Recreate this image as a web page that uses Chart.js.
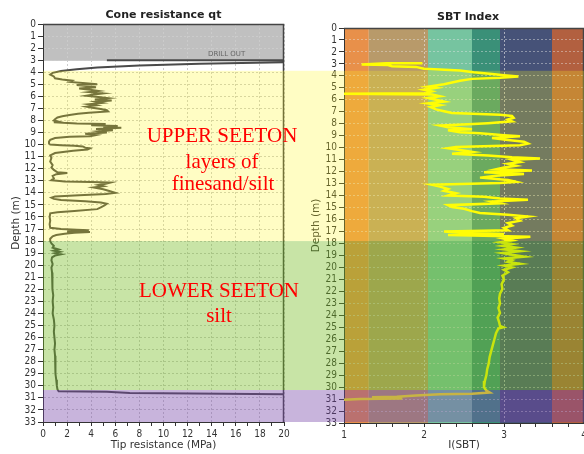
<!DOCTYPE html>
<html lang="en">
<head>
<meta charset="UTF-8"/>
<title>Cone resistance / SBT Index</title>
<script src="https://cdn.jsdelivr.net/npm/chart.js"></script>
<style>
    body { margin: 0; background: #fff; overflow: hidden; }
    #wrap { position: relative; width: 584px; height: 454px; overflow: hidden; }
    #qtChart { position: absolute; left: 0; top: 0; }
    #sbtChart { position: absolute; left: 300px; top: 0; }
    .note { position: absolute; width: 200px; color: #f00; font-family: "Liberation Serif", serif; font-size: 21px; line-height: 24px; text-align: center; white-space: nowrap; }
    .drill { position: absolute; left: 208px; top: 50px; font-family: "DejaVu Sans", sans-serif; font-size: 7px; line-height: 8px; color: #666; }
</style>
<script>
// cone resistance profile (depth m, qt MPa)
const qtDepth = [3.0, 3.0, 3.15, 3.3, 3.45, 3.6, 3.75, 3.9, 4.05, 4.2, 4.35, 4.5, 4.6, 4.7, 4.8, 4.9, 5.0, 5.05, 5.15, 5.25, 5.35, 5.45, 5.55, 5.65, 5.75, 5.85, 5.95, 6.05, 6.15, 6.25, 6.35, 6.45, 6.55, 6.65, 6.75, 6.85, 6.95, 7.05, 7.15, 7.25, 7.35, 7.45, 7.55, 7.65, 7.75, 7.9, 8.0, 8.1, 8.15, 8.25, 8.3, 8.4, 8.45, 8.55, 8.6, 8.7, 8.8, 8.9, 9.0, 9.1, 9.2, 9.3, 9.35, 9.45, 9.6, 9.75, 9.9, 10.0, 10.05, 10.1, 10.15, 10.25, 10.3, 10.4, 10.5, 10.7, 10.9, 11.1, 11.4, 11.7, 11.9, 12.1, 12.3, 12.35, 12.45, 12.6, 12.8, 12.95, 13.05, 13.1, 13.15, 13.25, 13.35, 13.45, 13.55, 13.7, 13.85, 14.0, 14.1, 14.2, 14.3, 14.4, 14.5, 14.6, 14.7, 14.8, 14.9, 15.05, 15.2, 15.35, 15.5, 15.6, 15.7, 16.0, 16.3, 16.6, 16.9, 17.0, 17.05, 17.1, 17.15, 17.2, 17.25, 17.3, 17.4, 17.5, 17.6, 17.8, 18.0, 18.2, 18.4, 18.55, 18.7, 18.8, 18.9, 19.0, 19.1, 19.2, 19.35, 19.6, 19.9, 20.2, 20.6, 21.0, 21.5, 22.0, 22.5, 23.0, 23.5, 24.0, 24.5, 25.0, 25.5, 26.0, 26.5, 27.0, 27.5, 28.0, 28.5, 29.0, 29.5, 30.0, 30.3, 30.45, 30.5, 30.6, 30.7];
const qtValue = [5.3, 21, 21, 13, 8, 4.5, 2.8, 1.5, 0.8, 0.6, 0.9, 1.0, 1.6, 2.4, 2.2, 3.3, 4.5, 2.8, 3.6, 4.4, 3.0, 3.9, 4.6, 3.8, 5.0, 4.2, 3.6, 4.6, 5.4, 4.3, 5.7, 4.4, 4.9, 3.8, 4.4, 3.6, 4.1, 4.8, 5.3, 5.4, 3.8, 2.9, 2.2, 1.6, 1.2, 1.0, 0.9, 1.3, 0.9, 2.8, 5.2, 4.0, 6.2, 5.0, 6.5, 4.4, 5.8, 4.6, 5.3, 3.5, 4.4, 3.9, 2.2, 1.0, 0.6, 0.5, 0.5, 0.6, 1.5, 2.6, 3.3, 3.5, 3.9, 3.7, 2.5, 1.0, 0.6, 0.7, 0.6, 0.8, 0.7, 0.9, 1.2, 2.0, 1.1, 0.8, 0.9, 0.7, 1.8, 4.0, 5.6, 5.2, 4.6, 5.0, 4.2, 5.0, 5.5, 6.0, 5.2, 3.0, 1.0, 0.7, 0.9, 1.5, 3.5, 4.8, 5.3, 5.1, 4.8, 4.5, 2.6, 1.2, 0.6, 0.55, 0.6, 0.55, 0.6, 1.5, 2.8, 3.8, 3.2, 2.0, 3.9, 2.6, 1.8, 1.1, 0.8, 0.6, 0.6, 0.7, 0.9, 0.8, 1.3, 0.9, 1.4, 1.0, 1.5, 1.0, 0.75, 0.7, 0.8, 0.7, 0.75, 0.8, 0.75, 0.8, 0.85, 0.8, 0.85, 0.8, 0.9, 0.95, 0.9, 0.95, 1.0, 0.95, 1.0, 1.05, 1.0, 1.05, 1.1, 1.15, 1.2, 1.3, 5.3, 7.2, 20.5];

// soil behaviour type index profile (depth m, Ic)
const sbtDepth = [2.95, 2.95, 3.05, 3.1, 3.2, 3.25, 3.4, 3.55, 3.7, 3.85, 3.95, 4.05, 4.15, 4.25, 4.4, 4.55, 4.7, 4.9, 5.0, 5.15, 5.3, 5.45, 5.5, 5.55, 5.7, 5.85, 6.0, 6.15, 6.3, 6.45, 6.6, 6.8, 6.95, 7.1, 7.25, 7.35, 7.5, 7.65, 7.8, 7.95, 8.05, 8.15, 8.3, 8.45, 8.55, 8.7, 8.8, 8.95, 9.05, 9.2, 9.35, 9.5, 9.65, 9.8, 9.95, 10.05, 10.2, 10.35, 10.5, 10.65, 10.8, 10.9, 11.0, 11.2, 11.35, 11.5, 11.65, 11.8, 11.9, 12.05, 12.2, 12.35, 12.5, 12.7, 12.85, 12.95, 13.1, 13.25, 13.45, 13.6, 13.8, 14.0, 14.1, 14.25, 14.35, 14.5, 14.65, 14.8, 14.95, 15.1, 15.3, 15.45, 15.6, 15.75, 15.9, 16.1, 16.3, 16.5, 16.7, 16.9, 17.0, 17.1, 17.2, 17.3, 17.45, 17.6, 17.75, 17.9, 18.05, 18.2, 18.35, 18.5, 18.65, 18.8, 18.95, 19.1, 19.25, 19.4, 19.55, 19.7, 19.85, 20.0, 20.2, 20.4, 20.7, 21.0, 21.4, 21.8, 22.2, 22.6, 23.0, 23.4, 23.8, 24.2, 24.6, 24.9, 25.0, 25.1, 25.5, 26.0, 26.5, 27.0, 27.5, 28.0, 28.5, 29.0, 29.5, 30.0, 30.3, 30.45, 30.55, 30.6, 30.7, 30.8, 30.85, 30.9, 30.95, 31.0, 31.05];
const sbtValue = [1.98, 1.53, 1.22, 1.55, 1.6, 1.9, 2.0, 2.45, 2.62, 2.85, 3.0, 3.18, 2.95, 2.6, 2.45, 2.35, 2.25, 2.05, 2.15, 2.0, 2.1, 2.02, 1.0, 2.1, 2.2, 2.05, 2.15, 2.25, 2.05, 2.2, 2.08, 2.15, 2.25, 2.35, 2.95, 3.1, 3.12, 3.05, 3.1, 2.8, 2.55, 2.2, 2.3, 2.6, 2.3, 2.45, 2.7, 3.0, 3.2, 2.85, 3.05, 3.25, 3.3, 3.2, 2.4, 2.3, 2.45, 2.6, 2.35, 2.8, 3.1, 3.45, 3.1, 3.2, 3.05, 3.15, 3.0, 2.9, 3.35, 2.75, 3.25, 2.9, 2.7, 3.05, 3.15, 2.95, 2.1, 2.2, 2.3, 2.25, 2.4, 2.3, 2.75, 2.95, 3.3, 2.85, 2.95, 2.3, 2.35, 2.5, 2.6, 2.7, 3.05, 3.3, 3.15, 3.2, 3.05, 3.1, 3.0, 3.05, 2.25, 2.5, 3.0, 2.3, 3.33, 3.0, 3.1, 2.95, 3.1, 2.98, 3.15, 3.0, 3.2, 2.98, 3.1, 3.25, 3.0, 3.1, 3.05, 3.2, 3.0, 3.1, 3.0, 3.05, 2.98, 3.0, 2.97, 2.98, 2.95, 2.94, 2.95, 2.93, 2.95, 2.92, 2.94, 2.95, 2.99, 2.93, 2.9, 2.88, 2.86, 2.84, 2.82, 2.81, 2.79, 2.78, 2.76, 2.75, 2.78, 2.82, 2.6, 2.2, 1.9, 1.66, 1.35, 1.5, 1.73, 1.2, 1.0];

// SBT zone columns
const sbtBounds = [1, 1.31, 2.05, 2.6, 2.95, 3.6, 4];
const sbtColors = ['#e8904a', '#b89a6a', '#76c4a0', '#3a9078', '#465278', '#b26040'];

// drill out zone and interpreted layers (depth m)
const drillOut = [0, 3.05];
const layerTop = [3.88, 18.0, 30.35];
const layerBottom = [18.0, 30.35, 33];
const layerColors = ['rgba(255,248,20,0.25)', 'rgba(118,188,33,0.4)', 'rgba(118,68,168,0.4)'];

let qtChart;

const profilePlugin = {
    id: 'profile',
    beforeDraw(chart, args, opts) {
        const ctx = chart.ctx, a = chart.chartArea, x = chart.scales.x, y = chart.scales.y;
        ctx.save();
        if (opts.kind === 'qt') {
            const y0 = y.getPixelForValue(drillOut[0]), y1 = y.getPixelForValue(drillOut[1]);
            ctx.fillStyle = '#c0c0c0';
            ctx.fillRect(a.left, y0, a.right - a.left, y1 - y0);
        } else {
            for (let i = 0; i < sbtColors.length; i++) {
                const x0 = x.getPixelForValue(sbtBounds[i]), x1 = x.getPixelForValue(sbtBounds[i + 1]);
                ctx.fillStyle = sbtColors[i];
                ctx.fillRect(x0, a.top, x1 - x0, a.bottom - a.top);
            }
        }
        ctx.restore();
    },
    afterDatasetsDraw(chart) {
        const ctx = chart.ctx, a = chart.chartArea;
        ctx.save();
        ctx.strokeStyle = '#444';
        ctx.lineWidth = 1.5;
        ctx.beginPath();
        ctx.moveTo(a.left, a.top + 0.5);
        ctx.lineTo(a.right - 0.5, a.top + 0.5);
        ctx.lineTo(a.right - 0.5, a.bottom);
        ctx.stroke();
        ctx.restore();
    },
    afterDraw(chart, args, opts) {
        const ctx = chart.ctx, a = chart.chartArea;
        // layers share page rows, so both charts use the qt depth scale
        const ys = opts.kind === 'qt' ? chart.scales.y : qtChart.scales.y;
        const x0 = opts.kind === 'qt' ? a.left : 0;
        ctx.save();
        for (let i = 0; i < layerColors.length; i++) {
            const y0 = ys.getPixelForValue(layerTop[i]), y1 = ys.getPixelForValue(layerBottom[i]);
            ctx.fillStyle = layerColors[i];
            ctx.fillRect(x0, y0, chart.width - x0, y1 - y0);
        }
        // title
        ctx.fillStyle = '#222';
        ctx.font = 'bold 11px "DejaVu Sans"';
        ctx.textAlign = 'center';
        ctx.textBaseline = 'middle';
        ctx.fillText(opts.title, (a.left + a.right) / 2 + (opts.dx || 0), opts.titleY);
        ctx.restore();
    }
};

const tickFont = { family: '"DejaVu Sans Condensed", "DejaVu Sans"', size: 10 };
const titleFont = { family: '"DejaVu Sans"', size: 10.5 };

function isWhole(v) { return Math.abs(v - Math.round(v)) < 1e-6; }

function depthAxis(width, titlePad) {
    return {
        type: 'linear', reverse: true, min: 0, max: 33,
        ticks: { stepSize: 1, autoSkip: false, padding: 2, color: '#333', font: tickFont },
        grid: { color: '#cbcbcb', tickColor: '#333', tickLength: 5 },
        border: { color: '#333', dash: [2, 2] },
        title: { display: true, text: 'Depth (m)', color: '#333', font: titleFont, padding: { top: titlePad, bottom: 0 } },
        afterFit: function(s) { s.width = width; }
    };
}
</script>
</head>
<body>
<div id="wrap">
    <canvas id="qtChart" width="300" height="454"></canvas>
    <canvas id="sbtChart" width="300" height="454"></canvas>
    <div class="drill">DRILL OUT</div>
    <div class="note" style="left:122px;top:123px">UPPER SEETON</div>
    <div class="note" style="left:122px;top:149px">layers of</div>
    <div class="note" style="left:123px;top:171px">finesand/silt</div>
    <div class="note" style="left:119px;top:278px">LOWER SEETON</div>
    <div class="note" style="left:119px;top:303px">silt</div>
</div>
<script>
qtChart = new Chart(document.getElementById('qtChart'), {
    type: 'scatter',
    data: {
        datasets: [{
            data: qtDepth.map(function(d, i) { return { x: qtValue[i], y: d }; }),
            showLine: true,
            borderColor: '#4a4a4a',
            borderWidth: 2,
            pointRadius: 0
        }]
    },
    options: {
        responsive: false,
        animation: false,
        events: [],
        layout: { padding: { top: 24, right: 16, left: 0, bottom: 0 } },
        plugins: {
            legend: { display: false },
            tooltip: { enabled: false },
            profile: { kind: 'qt', title: 'Cone resistance qt', titleY: 15 }
        },
        scales: {
            x: {
                type: 'linear', position: 'bottom', min: 0, max: 20,
                ticks: {
                    stepSize: 1, autoSkip: false, maxRotation: 0, padding: 2, color: '#333', font: tickFont,
                    callback: function(v) { return v % 2 === 0 ? v : ''; }
                },
                grid: {
                    color: function(c) { return c.tick && c.tick.value % 2 === 0 ? '#cbcbcb' : 'rgba(0,0,0,0)'; },
                    tickColor: '#333', tickLength: 4
                },
                border: { color: '#333', dash: [2, 2] },
                title: { display: true, text: 'Tip resistance (MPa)', color: '#333', font: titleFont, padding: { top: 0, bottom: 2 } },
                afterFit: function(s) { s.height = 32; }
            },
            y: depthAxis(43, 10)
        }
    },
    plugins: [profilePlugin]
});

const sbtChart = new Chart(document.getElementById('sbtChart'), {
    type: 'scatter',
    data: {
        datasets: [{
            data: sbtDepth.map(function(d, i) { return { x: sbtValue[i], y: d }; }),
            showLine: true,
            borderColor: '#ffff00',
            borderWidth: 2.5,
            pointRadius: 0
        }]
    },
    options: {
        responsive: false,
        animation: false,
        events: [],
        layout: { padding: { top: 28, right: 16, left: 0, bottom: 0 } },
        plugins: {
            legend: { display: false },
            tooltip: { enabled: false },
            profile: { kind: 'sbt', title: 'SBT Index', titleY: 17, dx: 4 }
        },
        scales: {
            x: {
                type: 'linear', position: 'bottom', min: 1, max: 4,
                ticks: {
                    stepSize: 0.2, autoSkip: false, maxRotation: 0, padding: 2, color: '#333', font: tickFont,
                    callback: function(v) { return isWhole(v) ? Math.round(v) : ''; }
                },
                grid: {
                    color: function(c) { return c.tick && isWhole(c.tick.value) ? 'rgba(235,235,235,0.6)' : 'rgba(0,0,0,0)'; },
                    tickColor: '#333', tickLength: 4
                },
                border: { color: '#333', dash: [2, 2] },
                title: { display: true, text: 'I(SBT)', color: '#333', font: titleFont, padding: { top: 0, bottom: 2 } },
                afterFit: function(s) { s.height = 31; }
            },
            y: Object.assign(depthAxis(44, 10), { grid: { color: 'rgba(230,230,230,0.45)', tickColor: '#333', tickLength: 5 } })
        }
    },
    plugins: [profilePlugin]
});
</script>
</body>
</html>
